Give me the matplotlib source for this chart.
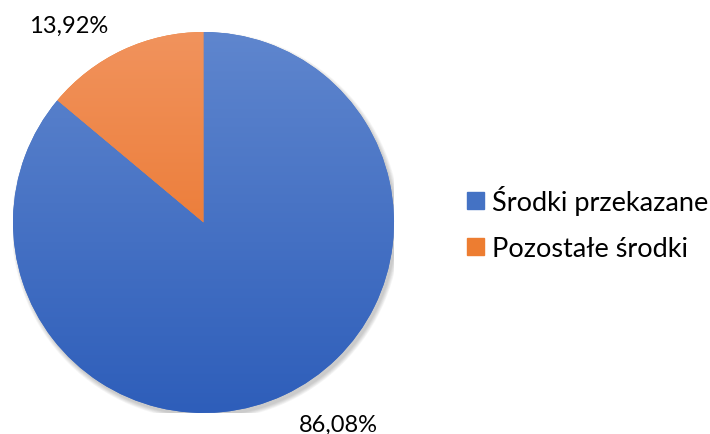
import numpy as np
import matplotlib.pyplot as plt
from matplotlib.colors import LinearSegmentedColormap
from matplotlib.patches import Patch, Circle

labels = ['Środki przekazane', 'Pozostałe środki']
values = [86.08, 13.92]
pct_text = ['86,08%', '13,92%']
top_colors = ['#5F86CE', '#F1935D']
bot_colors = ['#2E5EBA', '#E86A1A']
mid_colors = ['#4472C4', '#ED7D31']

plt.rcParams['font.family'] = ['Lato', 'DejaVu Sans']

fig = plt.figure(figsize=(7.1, 4.35), dpi=100)
ax = fig.add_axes([13 / 710, 21 / 435, 381 / 710, 381 / 435])
ax.set_xlim(-1.0, 1.0)
ax.set_ylim(-1.0, 1.0)
ax.set_aspect('equal')
ax.axis('off')

# soft shadow
for k in range(6):
    ax.add_patch(Circle((0.012, -0.018), 1.0 + 0.004 * k, color='black',
                        alpha=0.035, lw=0, zorder=0))

wedges, _ = ax.pie(values, startangle=90, counterclock=False, radius=1.0,
                   colors=mid_colors, wedgeprops=dict(lw=0))

grad = np.linspace(0, 1, 256).reshape(-1, 1)
for w, c1, c2 in zip(wedges, top_colors, bot_colors):
    cmap = LinearSegmentedColormap.from_list('g', [c1, c2])
    im = ax.imshow(grad, cmap=cmap, extent=[-1, 1, -1, 1], origin='upper',
                   aspect='auto', zorder=2)
    im.set_clip_path(w)
ax.set_xlim(-1.0, 1.0)
ax.set_ylim(-1.0, 1.0)

ax.text(0.707, -1.06, pct_text[0], ha='center', va='center', fontsize=17)
ax.text(-0.707, 1.034, pct_text[1], ha='center', va='center', fontsize=17)

handles = [Patch(color=c) for c in mid_colors]
fig.legend(handles, labels, loc='center left', bbox_to_anchor=(443 / 710, 0.485),
           frameon=False, fontsize=19.5, handlelength=0.6, handleheight=0.6,
           handletextpad=0.3, labelspacing=0.8)

fig.savefig('out.png', dpi=100)
